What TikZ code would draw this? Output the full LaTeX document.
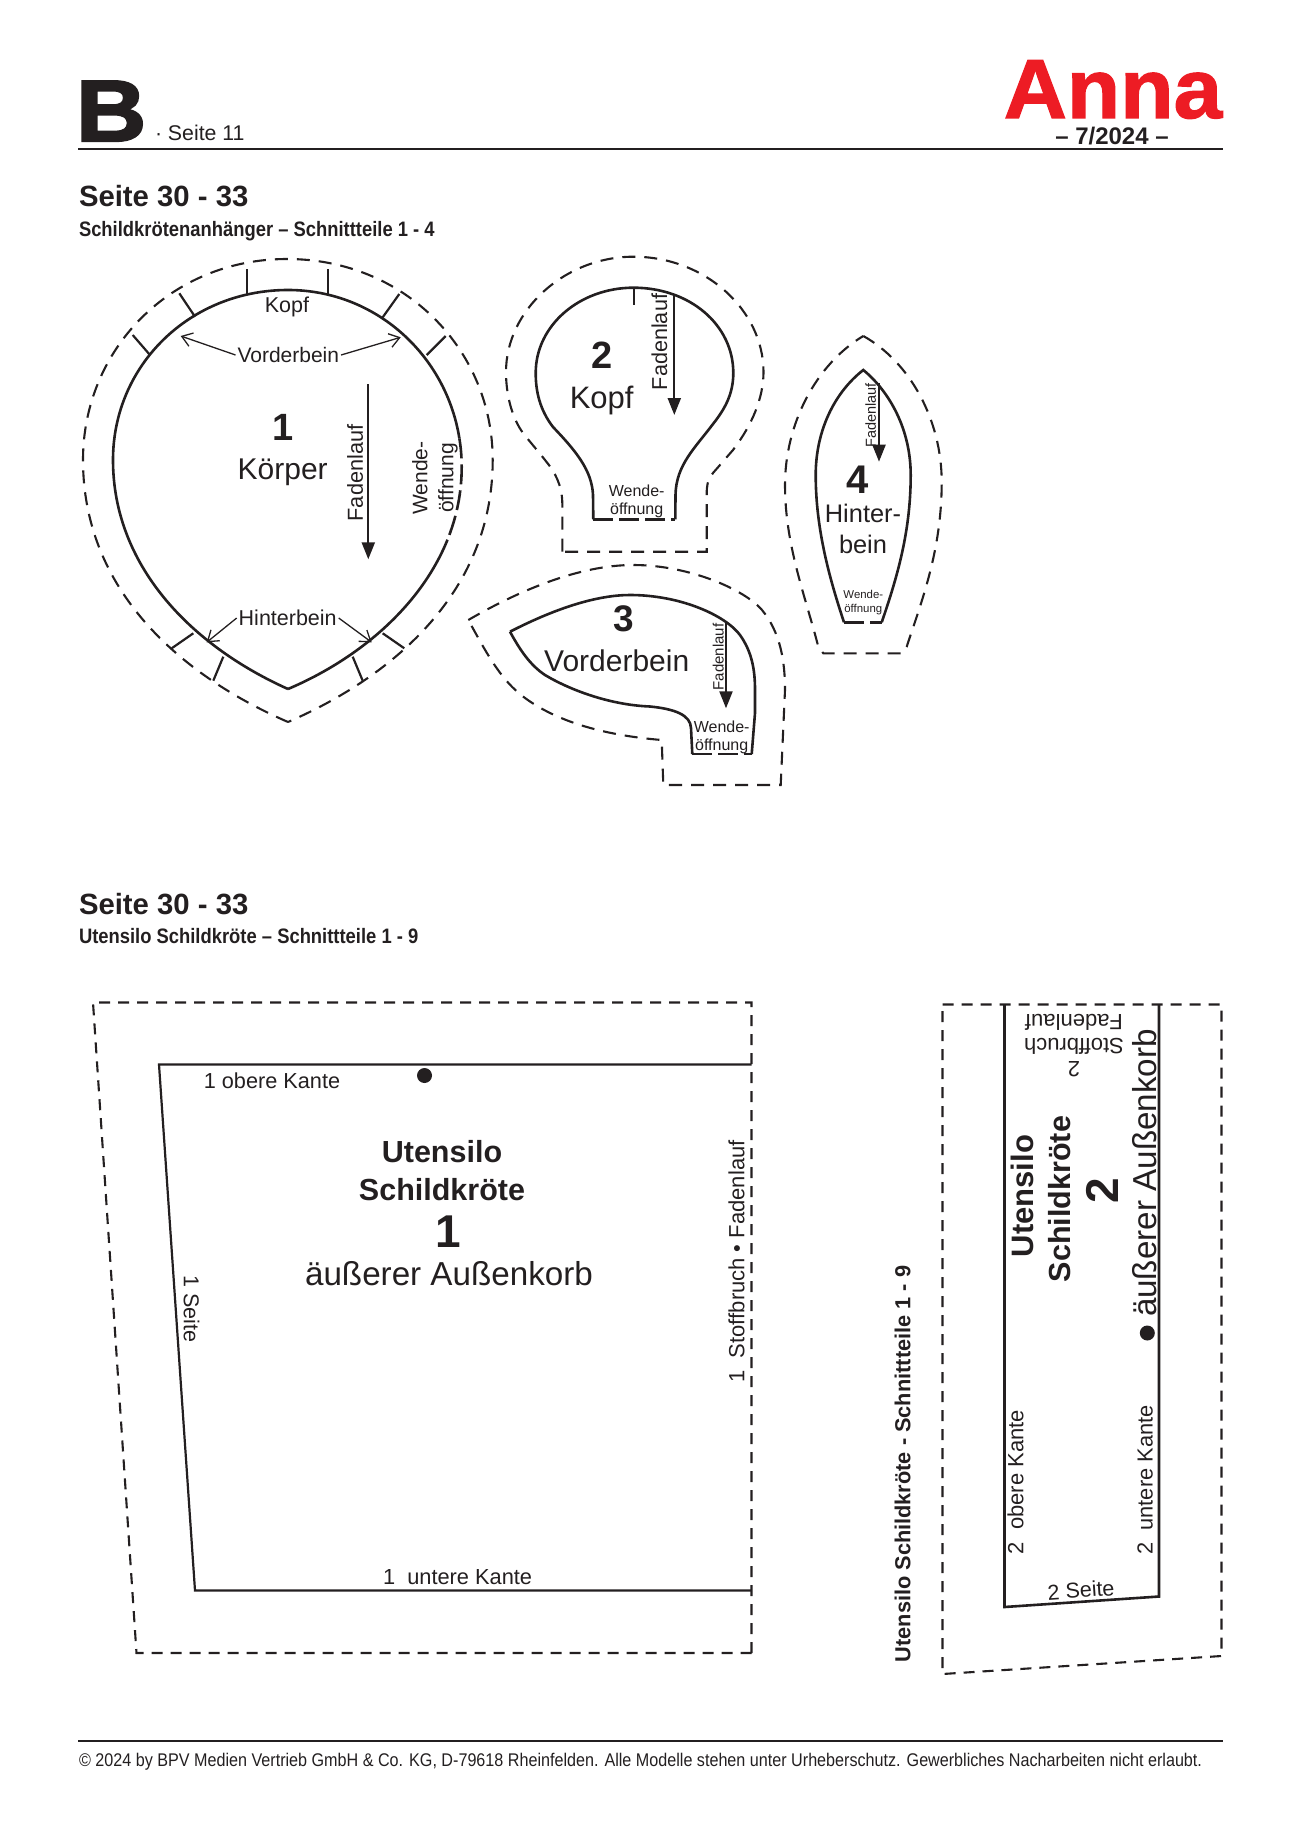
\documentclass[tikz,border=0pt]{standalone}
\usepackage{fontspec}
\setmainfont{Liberation Sans}
\newfontfamily\condbf{Liberation Sans Bold}[FakeStretch=.88]
\newfontfamily\condrm{Liberation Sans}[FakeStretch=.88]
\newfontfamily\logofont{Liberation Sans Bold}[FakeStretch=1.04,FakeBold=1.5]
\newfontfamily\blattfont{Liberation Sans Bold}[FakeStretch=1.12,FakeBold=2.5]
\usetikzlibrary{arrows.meta}
\definecolor{ink}{HTML}{231F20}
\definecolor{annared}{HTML}{ED1C24}
\newcommand{\fsz}[1]{\fontsize{#1}{#1}\selectfont}
\newcommand{\fsl}[2]{\fontsize{#1}{#2}\selectfont}

\begin{document}
\begin{tikzpicture}[
x=1pt,y=-1pt,
every node/.style={inner sep=0pt,outer sep=2pt,text=ink,align=center},
fade/.style={font=\fsz{#1},rotate=90},
]

\tikzstyle{cut} = [draw=ink, line width=2.6pt, line join=miter]
\tikzstyle{seam} = [draw=ink, line width=2.1pt, dash pattern=on 13pt off 9pt]
\tikzstyle{seamb} = [draw=ink, line width=2.1pt, dash pattern=on 11pt off 8pt]
\tikzstyle{gap} = [draw=ink, line width=2.6pt, dash pattern=on 20pt off 6pt]
\tikzstyle{notch} = [draw=ink, line width=2.2pt]
\tikzstyle{grain} = [draw=ink, line width=2.2pt, -{Triangle[width=13pt,length=17pt]}]
\tikzstyle{lead} = [draw=ink, line width=1.3pt, -{Straight Barb[length=10pt,width=14pt]}]
\tikzstyle{hole} = [fill=ink, shape=circle, minimum size=15pt, outer sep=0pt]

\useasboundingbox (0,0) rectangle (1300,1838);

% head
\node[anchor=base west,font=\fsz{87}\blattfont] (blatt) at (74,141) {B};
\node[anchor=base west,font=\fsz{21.3}] (blattseite) at (153,141) {· Seite 11};
\node[anchor=base,font=\fsz{84}\logofont,text=annared] (anna) at (1113,118) {Anna};
\node[font=\fsz{24}\bfseries] (heft) at (1112,136) {– 7/2024 –};
\coordinate (kl) at (78,149); \coordinate (kr) at (1222.5,149);
\draw[ink,line width=1.8pt] (kl) -- (kr);

\node[anchor=base west,font=\fsz{29.3}\bfseries] (titela) at (77,207) {Seite 30 - 33};
\node[anchor=base west,font=\fsz{20.9}\condbf] (suba) at (77,236) {Schildkrötenanhänger – Schnittteile 1 - 4};
\node[anchor=base west,font=\fsz{29.3}\bfseries] (titelb) at (77,914) {Seite 30 - 33};
\node[anchor=base west,font=\fsz{20.9}\condbf] (subb) at (77,943.7) {Utensilo Schildkröte – Schnittteile 1 - 9};

% part 1
\draw[seam] (288,722) .. controls (180,675) and (83,590) .. (83,460) .. controls (83,350) and (170,259) .. (287,259) .. controls (405,259) and (492.7,350) .. (492.7,460) .. controls (492.7,590) and (396,675) .. (288,722);
\draw[cut] (288,689) .. controls (190,645) and (113,565) .. (113,460) .. controls (113,365) and (190,290) .. (288,290) .. controls (375.3,290) and (446.1,354.8) .. (459.4,438.5);
\draw[cut] (447.5,539.7) .. controls (420.2,607.4) and (357,659.75) .. (288,689);
\draw[gap] (459.4,438.5) .. controls (460.9,447.8) and (461.7,457.3) .. (461.7,467) .. controls (461.7,492.75) and (456.6,517.1) .. (447.5,539.7);
\foreach \xa/\ya/\xb/\yb in {246.7/295/246.7/269.3, 328.3/295/328.3/269.3, 195/316.7/179.3/293.3, 382.7/317.3/399.3/294, 150/355/132.7/335, 426.7/355/445.7/336, 193.3/633.3/171.7/648.3, 223.3/656.7/213.3/680.7, 352.7/656.7/362.7/680.7, 382.7/633.3/404.3/648.3}
    \draw[notch] (\xa,\ya) -- (\xb,\yb);

\node[font=\fsz{21.5}] (kopfa) at (287,307) {Kopf};
\node[font=\fsz{21}] (vorder) at (288.3,355) {Vorderbein};
\node[font=\fsz{21.5}] (hinter) at (287.7,618) {Hinterbein};
\node[font=\fsz{38}\bfseries] (numa) at (283.3,427) {1};
\node[font=\fsz{30}] (koerper) at (282.7,472) {Körper};
\node[fade=21.7] (fadena) at (355,473) {Fadenlauf};
\node[font=\fsl{21}{26},rotate=90] (wendea) at (435,478) {Wende-\\öffnung};

\coordinate (vl) at (180.7,336); \coordinate (vr) at (400.7,337.3);
\coordinate (hl) at (206.7,642.3); \coordinate (hr) at (371.7,642.3);
\draw[lead] (vorder.west) -- (vl);
\draw[lead] (vorder.east) -- (vr);
\draw[lead] (hinter.west) -- (hl);
\draw[lead] (hinter.east) -- (hr);
\coordinate (ga) at (368.3,384); \coordinate (gb) at (368.3,559.3);
\draw[grain] (ga) -- (gb);

% part 2
\draw[seam] (562.3,551.7) -- (562.3,503) .. controls (562,485) and (555,472) .. (545,460) .. controls (538,451) and (530,442) .. (523,433) .. controls (512,418) and (506,395) .. (506,372) .. controls (506,310) and (565,256.7) .. (633.5,256.7) .. controls (705,256.7) and (763.5,310) .. (763.5,372) .. controls (763.5,398) and (752,425) .. (733,450) .. controls (726,458) and (720,465) .. (713,473) .. controls (707,481) and (706.7,486) .. (706.7,495) -- (706.7,551.7) -- cycle;
\draw[cut] (593.3,519.3) -- (593,495) .. controls (592,470) and (575,450) .. (553,427) .. controls (540,410) and (535.7,392) .. (535.7,373) .. controls (535.7,325) and (580,287.7) .. (633.5,287.7) .. controls (690,287.7) and (733.3,325) .. (733.3,373) .. controls (733.3,395) and (724,410) .. (713,424) .. controls (695,448) and (676,465) .. (675.5,495) -- (675.3,519.3);
\draw[gap] (593.3,519.3) -- (675.3,519.3);
\draw[notch] (634.3,287.7) -- (634.3,305);
\node[font=\fsz{38}\bfseries] (numb) at (602.3,355) {2};
\node[font=\fsz{31}] (kopfb) at (601.7,400.5) {Kopf};
\node[fade=21.6] (fadenb) at (659.3,342) {Fadenlauf};
\node[font=\fsl{16}{18}] (wendeb) at (636.7,501.5) {Wende-\\öffnung};
\coordinate (gc) at (674.3,295); \coordinate (gd) at (674.3,415);
\draw[grain] (gc) -- (gd);

% part 3
\draw[seam] (468.3,620) .. controls (520,590) and (580,565) .. (633,565) .. controls (690,565) and (745,590) .. (762,610) .. controls (780,632) and (785,660) .. (785,690) -- (780.7,785) -- (663.3,785) -- (661.7,740) .. controls (600,735) and (555,720) .. (525,698) .. controls (500,680) and (485,650) .. (468.3,620);
\draw[cut] (510,631.7) .. controls (560,606) and (600,595) .. (630,595) .. controls (680,595) and (725,615) .. (740,635) .. controls (752,652) and (755,670) .. (755,690) -- (755,713) -- (751.7,754);
\draw[cut] (692.3,754) -- (691,728) .. controls (690.5,715) and (675,709) .. (650,706.5) .. controls (610,705) and (570,690) .. (545,675) .. controls (530,665) and (520,650) .. (510,631.7);
\draw[gap] (692.3,754) -- (751.7,754);
\node[font=\fsz{37}\bfseries] (numc) at (623.3,618.3) {3};
\node[font=\fsz{30}] (vorderc) at (616.7,661) {Vorderbein};
\node[fade=15] (fadenc) at (718.3,657) {Fadenlauf};
\node[font=\fsl{16}{18}] (wendec) at (721.7,737) {Wende-\\öffnung};
\coordinate (ge) at (726,621.7); \coordinate (gf) at (726,708.3);
\draw[grain] (ge) -- (gf);

% part 4
\draw[seam] (863.3,336) .. controls (910,362) and (941.7,420) .. (941.7,482) .. controls (941.7,550) and (922,600) .. (906.7,646.7) -- (901.7,653.3) -- (823.3,653.3) -- (818.3,646.7) .. controls (805,595) and (785,545) .. (785,485) .. controls (785,425) and (815,365) .. (863.3,336);
\draw[cut] (844,622.3) .. controls (830,580) and (815.7,530) .. (815.7,475) .. controls (815.7,430) and (835,392) .. (863.3,370) .. controls (890,392) and (910.7,430) .. (910.7,475) .. controls (910.7,530) and (898,575) .. (881.7,622.3);
\draw[gap] (844,622.3) -- (881.7,622.3);
\node[font=\fsz{40}\bfseries] (numd) at (857.3,480) {4};
\node[font=\fsl{25.4}{31}] (hinterd) at (863,529) {Hinter-\\bein};
\node[fade=14.5] (fadend) at (870.7,415.3) {Fadenlauf};
\node[font=\fsl{11.4}{14}] (wended) at (863.3,602.5) {Wende-\\öffnung};
\coordinate (gg) at (879,383.3); \coordinate (gh) at (879,461.7);
\draw[grain] (gg) -- (gh);

% korb 1
\draw[seamb] (751.5,1653) -- (136.5,1653) -- (93,1002.5) -- (751.5,1002.5) -- (751.5,1653);
\draw[cut,line width=2.2pt] (751.5,1064.5) -- (159,1064.5) -- (195,1590.5) -- (751.5,1590.5);
\node[font=\fsz{21.7}] (obena) at (272,1080.5) {1 obere Kante};
\node[hole] (lochA) at (424.5,1075.5) {};
\node[font=\fsl{30.5}{37.5}\bfseries] (utensa) at (442,1170.6) {Utensilo\\Schildkröte};
\node[font=\fsz{46}\bfseries] (numk) at (448,1232) {1};
\node[font=\fsz{33.2}] (aussena) at (449,1274) {äußerer Außenkorb};
\node[font=\fsz{21.5},rotate=-90] (seitea) at (191.5,1309) {1 Seite};
\node[fade=22] (bruch) at (736.5,1261.4) {1~ Stoffbruch • Fadenlauf};
\node[font=\fsz{21.8}] (untena) at (457.6,1577.5) {1~ untere Kante};

% korb 2
\draw[seamb] (942.5,1004.5) -- (1221.5,1004.5) -- (1221.5,1656) -- (942.5,1674) -- (942.5,1004.5);
\draw[cut] (1004.5,1004.5) -- (1004.5,1607) -- (1159,1596.5) -- (1159,1004.5);
\node[rotate=90,font=\fsz{21.75}\bfseries] (seitlich) at (902.5,1464) {Utensilo Schildkröte - Schnittteile 1 - 9};
\node[rotate=90,font=\fsz{31}\bfseries] (utensb) at (1022.5,1196) {Utensilo};
\node[rotate=90,font=\fsz{30.5}\bfseries] (schildb) at (1060,1199) {Schildkröte};
\node[rotate=90,font=\fsz{46}\bfseries] (numl) at (1102.5,1190.5) {2};
\node[rotate=90,font=\fsz{33.2}] (aussenb) at (1145,1173) {äußerer Außenkorb};
\node[hole] (lochB) at (1147.3,1333) {};
\node[rotate=90,font=\fsz{22}] (obenb) at (1015.5,1482) {2~ obere Kante};
\node[rotate=90,font=\fsz{21.8}] (untenb) at (1145,1480) {2~ untere Kante};
\node[rotate=4,font=\fsz{21.5}] (seiteb) at (1081,1590) {2 Seite};
\node[rotate=180,font=\fsl{22}{23.5}] (bruchb) at (1074,1046) {2\\Stoffbruch\\Fadenlauf};

% foot
\coordinate (fl) at (78,1741); \coordinate (fr) at (1222.5,1741);
\draw[ink,line width=1.2pt] (fl) -- (fr);
\node[anchor=base west,font=\fsz{18.35}\condrm] (recht) at (77,1766) {© 2024 by BPV Medien Vertrieb GmbH \& Co. KG, D-79618 Rheinfelden. Alle Modelle stehen unter Urheberschutz. Gewerbliches Nacharbeiten nicht erlaubt.};
\end{tikzpicture}
\end{document}
